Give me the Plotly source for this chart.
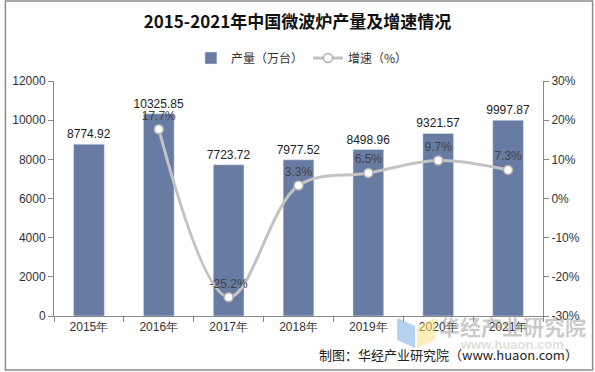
import plotly.graph_objects as go

years = ["2015年", "2016年", "2017年", "2018年", "2019年", "2020年", "2021年"]
output = [8774.92, 10325.85, 7723.72, 7977.52, 8498.96, 9321.57, 9997.87]
growth = [None, 17.7, -25.2, 3.3, 6.5, 9.7, 7.3]
left_ticks = [0, 2000, 4000, 6000, 8000, 10000, 12000]
left_labels = ["0", "2000", "4000", "6000", "8000", "10000", "12000"]
right_ticks = [-30, -20, -10, 0, 10, 20, 30]
right_labels = ["-30%", "-20%", "-10%", "0%", "10%", "20%", "30%"]

W, H = 595, 372
L, R, T, B = 50, 543, 81, 316

def px(x):
    return (x - L) / (R - L)

def py(y):
    return (B - y) / (B - T)

fig = go.Figure()
fig.add_trace(go.Bar(
    x=years, y=output, name="产量（万台）",
    marker=dict(color="#677BA3"),
    text=[f"{v:.2f}" for v in output], textposition="outside", constraintext="none",
    textfont=dict(size=12, color="#222", family="Liberation Sans, Arial"),
    cliponaxis=False,
))
fig.add_trace(go.Scatter(
    x=years, y=growth, name="增速（%）", yaxis="y2",
    mode="lines+markers+text",
    line=dict(color="#C3C3C3", width=3, shape="spline", smoothing=1.0),
    marker=dict(symbol="circle", size=9, color="white", line=dict(color="#AFAFAF", width=1.5)),
    text=[("" if g is None else f"{g}%") for g in growth],
    textposition="top center",
    textfont=dict(size=12, color="#444", family="Liberation Sans, Arial"),
    cliponaxis=False,
))

axis_font = dict(size=12, color="#333", family="Liberation Sans, Arial")
fig.update_layout(
    width=W, height=H,
    margin=dict(l=L, r=W - R, t=T, b=H - B, pad=0),
    paper_bgcolor="white", plot_bgcolor="white",
    bargap=0.56,
    title=dict(text="<b>2015-2021年中国微波炉产量及增速情况</b>", x=0.5, xanchor="center",
               y=1 - 22 / H, yanchor="middle",
               font=dict(size=17, color="#111", family="Noto Sans CJK SC")),
    legend=dict(orientation="h", x=0.507, xanchor="center", y=py(58), yanchor="middle",
                font=dict(size=12, color="#333", family="Noto Sans CJK SC"),
                bgcolor="rgba(0,0,0,0)", itemwidth=30),
    xaxis=dict(type="category", showline=True, linecolor="#888", linewidth=1,
               ticks="outside", tickson="boundaries", ticklen=5, tickcolor="#888",
               tickfont=axis_font, showgrid=False),
    yaxis=dict(range=[0, 12000], tickmode="array", tickvals=left_ticks, ticktext=left_labels,
               showline=True, linecolor="#888",
               ticks="outside", ticklen=5, tickcolor="#888", showgrid=False, zeroline=False,
               tickfont=axis_font),
    yaxis2=dict(range=[-30, 30], tickmode="array", tickvals=right_ticks, ticktext=right_labels,
                overlaying="y", side="right",
                showline=True, linecolor="#888", ticks="outside", ticklen=5, tickcolor="#888",
                showgrid=False, zeroline=False, tickfont=axis_font),
    showlegend=True,
)

# outer frame
fig.add_shape(type="rect", xref="paper", yref="paper",
              x0=px(1), x1=px(593), y0=py(370), y1=py(1),
              line=dict(color="#8C8C8C", width=1.5), fillcolor="rgba(0,0,0,0)", layer="below")

# watermark logo
fig.add_shape(type="path", xref="paper", yref="paper",
              path=f"M {px(396)} {py(318)} L {px(414)} {py(326)} L {px(414)} {py(348)} L {px(396)} {py(340)} Z",
              fillcolor="rgba(120,170,230,0.55)", line=dict(width=0))
fig.add_shape(type="path", xref="paper", yref="paper",
              path=f"M {px(416)} {py(326)} L {px(434)} {py(318)} L {px(434)} {py(340)} L {px(416)} {py(348)} Z",
              fillcolor="rgba(250,225,130,0.55)", line=dict(width=0))
fig.add_annotation(text="<b>华经产业研究院</b>", xref="paper", yref="paper",
                   x=px(512), y=py(326), xanchor="center", yanchor="middle", showarrow=False,
                   font=dict(size=21, color="rgba(150,150,150,0.5)", family="Noto Sans CJK SC"))
fig.add_annotation(text="<b>www.huaon.com</b>", xref="paper", yref="paper",
                   x=px(512), y=py(344), xanchor="center", yanchor="middle", showarrow=False,
                   font=dict(size=13, color="rgba(170,170,170,0.4)", family="Liberation Sans"))

# footer
fig.add_annotation(text="制图：华经产业研究院（www.huaon.com）", xref="paper", yref="paper",
                   x=px(580), y=py(354), xanchor="right", yanchor="middle", showarrow=False,
                   font=dict(size=13, color="#222", family="Noto Sans CJK SC"))

fig.write_html("out.html", config={"displayModeBar": False},
               post_script="document.body.style.margin='0px';document.body.style.overflow='hidden';")
